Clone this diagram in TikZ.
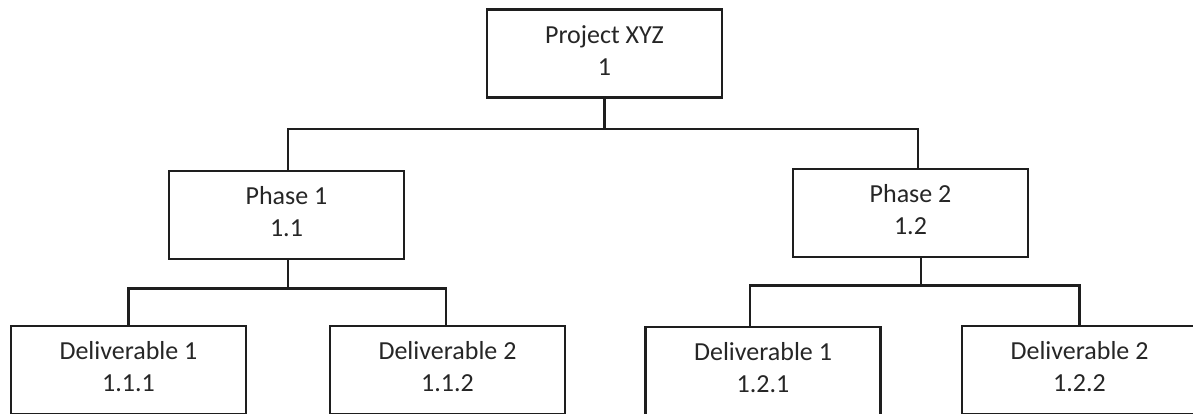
\documentclass[tikz,border=0pt]{standalone}
\usepackage{fontspec}
\setmainfont{Carlito}
\usetikzlibrary{calc}
\definecolor{ink}{HTML}{1E1E1E}
\definecolor{txt}{HTML}{262626}
\begin{document}
\begin{tikzpicture}[x=1pt,y=-1pt,
  box/.style={draw=ink, line width=2.6pt, rectangle, inner sep=0pt,
    minimum width=235pt, minimum height=88pt, align=center,
    text=txt, text height=43pt, text depth=0pt,
    font=\fontsize{26}{32}\selectfont},
  link/.style={draw=ink, line width=2.6pt, line cap=rect}]
\useasboundingbox (0,0) rectangle (1193,413);
\clip (0,0) rectangle (1193,413);
\node[box] (top) at (604.5,53.5) {Project XYZ\\1};
\node[box] (p1) at (286.5,215) {Phase 1\\1.1};
\node[box] (p2) at (910.5,213) {Phase 2\\1.2};
\node[box] (d111) at (128.5,370) {Deliverable 1\\1.1.1};
\node[box] (d112) at (447.5,370) {Deliverable 2\\1.1.2};
\node[box] (d121) at (763,371) {Deliverable 1\\1.2.1};
\node[box] (d122) at (1079.5,370) {Deliverable 2\\1.2.2};
% level 1 connectors
\coordinate (b1) at ($(top.south)+(0,30)$);
\draw[link] (top.south) -- (b1);
\draw[link] ([xshift=1.5pt]p1.north) |- (b1) -| ([xshift=7.5pt]p2.north);
% phase 1 children
\coordinate (b2) at ($([xshift=1.5pt]p1.south)+(0,28)$);
\draw[link] ([xshift=1.5pt]p1.south) -- (b2);
\draw[link] (d111.north) |- (b2) -| ([xshift=-1.5pt]d112.north);
% phase 2 children
\coordinate (b3) at ($([xshift=10.5pt]p2.south)+(0,27)$);
\draw[link] ([xshift=10.5pt]p2.south) -- (b3);
\draw[link] ([xshift=-13pt]d121.north) |- (b3) -| (d122.north);
\end{tikzpicture}
\end{document}
